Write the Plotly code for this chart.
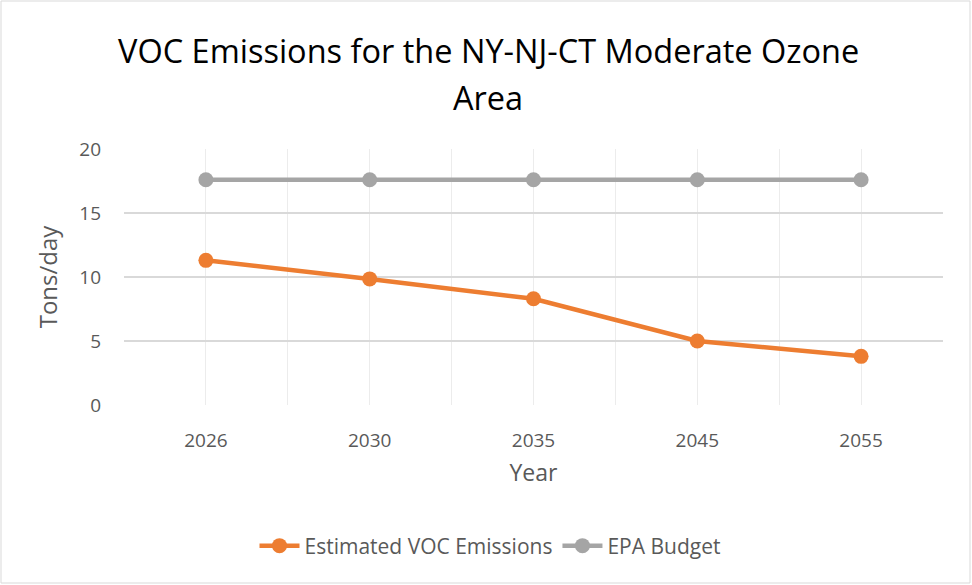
import plotly.graph_objects as go

years = ["2026", "2030", "2035", "2045", "2055"]
voc = [11.3, 9.85, 8.3, 5.0, 3.8]
budget = [17.6, 17.6, 17.6, 17.6, 17.6]
title_lines = ["VOC Emissions for the NY-NJ-CT Moderate Ozone", "Area"]

W, H = 972, 585
ML, MR, MT, MB = 124, 29, 149, 180
pw, ph = W - ML - MR, H - MT - MB

font = "Open Sans"
grey_txt = "#595959"

def px_x(x):
    return (x - ML) / pw

def px_y(y):
    return (H - MB - y) / ph

xs = list(range(len(years)))
fig = go.Figure()
fig.add_trace(go.Scatter(x=xs, y=voc, mode="lines+markers", name="Estimated VOC Emissions",
                         line=dict(color="#ED7D31", width=4.5), marker=dict(size=15, color="#ED7D31")))
fig.add_trace(go.Scatter(x=xs, y=budget, mode="lines+markers", name="EPA Budget",
                         line=dict(color="#A5A5A5", width=4.5), marker=dict(size=15, color="#A5A5A5")))

tickvals = [i / 2 - 0.5 for i in range(2 * len(years) + 1)]
ticktext = [years[int(v)] if v == int(v) and v >= 0 else "" for v in tickvals]

for line, yc in zip(title_lines, [50, 97]):
    fig.add_annotation(text=line, xref="paper", yref="paper", x=px_x(488), y=px_y(yc),
                       xanchor="center", yanchor="middle", showarrow=False,
                       font=dict(family=font, size=32.5, color="#000000"))

fig.update_layout(
    width=W, height=H,
    margin=dict(l=ML, r=MR, t=MT, b=MB),
    paper_bgcolor="white", plot_bgcolor="white",
    font=dict(family=font, color=grey_txt),
    showlegend=True,
    legend=dict(orientation="h", x=px_x(490), xanchor="center", y=px_y(546), yanchor="middle",
                font=dict(size=21, color=grey_txt), itemwidth=40, entrywidth=0),
    xaxis=dict(range=[-0.5, len(years) - 0.5], tickmode="array", tickvals=tickvals, ticktext=ticktext,
               showgrid=True, gridcolor="#ececec", gridwidth=1, zeroline=False,
               showline=False, ticks="", ticklabelstandoff=22,
               tickfont=dict(size=19, color=grey_txt),
               title=dict(text="Year", font=dict(size=23, color=grey_txt), standoff=12)),
    yaxis=dict(range=[0, 20], dtick=5, tick0=0, showgrid=True, gridcolor="#d9d9d9", gridwidth=1.5,
               zeroline=False, showline=False, ticks="", ticklabelstandoff=22,
               tickfont=dict(size=19, color=grey_txt),
               title=dict(text="Tons/day", font=dict(size=24, color=grey_txt), standoff=14)),
)
fig.add_shape(type="rect", xref="paper", yref="paper",
              x0=px_x(1), x1=px_x(W - 2), y0=px_y(H - 2), y1=px_y(1),
              line=dict(color="#d9d9d9", width=1), layer="below")
fig.write_html("out.html", post_script="document.body.style.margin='0';",
               config={"displayModeBar": False})
